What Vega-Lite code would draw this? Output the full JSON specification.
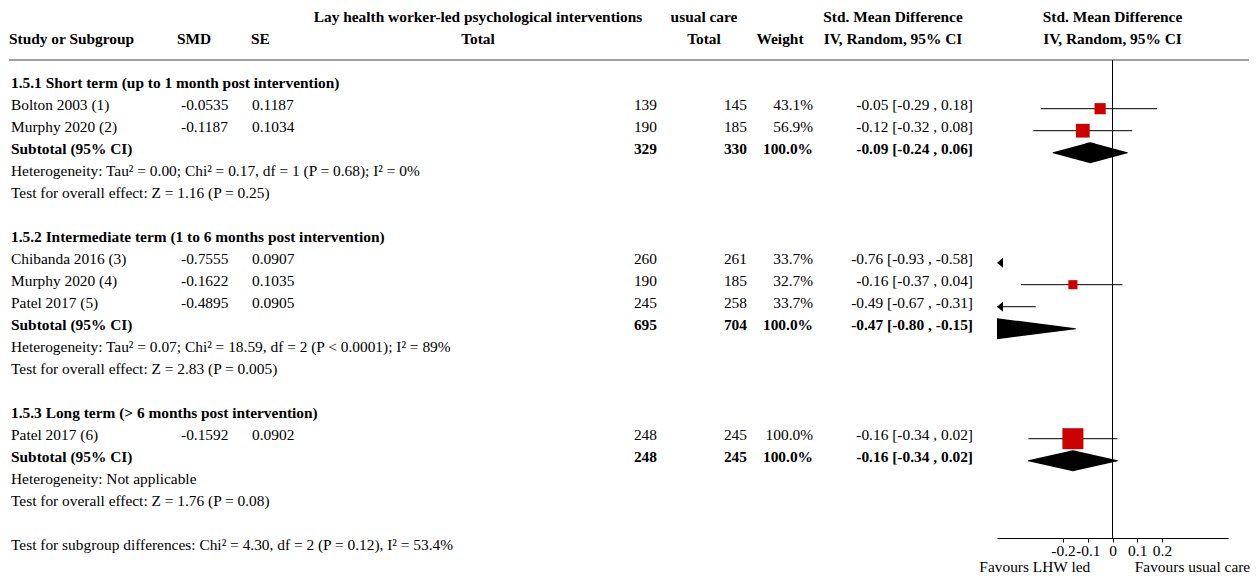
{
  "$schema": "https://vega.github.io/schema/vega-lite/v6.json",
  "padding": {"left": 8, "top": 0, "right": 0, "bottom": 0},
  "background": "white",
  "spacing": 0,
  "bounds": "flush",
  "config": {
    "view": {"stroke": null},
    "text": {"font": "Liberation Serif", "fontSize": 15.4, "baseline": "middle", "dy": -3.5, "color": "#000"}
  },
  "datasets": {
    "header": [
      {"col": "study", "row": -2, "text": "Study or Subgroup"},
      {"col": "smd", "row": -2, "text": "SMD"},
      {"col": "se", "row": -2, "text": "SE"},
      {"col": "t1", "row": -3, "text": "Lay health worker-led psychological interventions"},
      {"col": "t1", "row": -2, "text": "Total"},
      {"col": "t2", "row": -3, "text": "usual care"},
      {"col": "t2", "row": -2, "text": "Total"},
      {"col": "w", "row": -2, "text": "Weight"},
      {"col": "ci", "row": -3, "text": "Std. Mean Difference"},
      {"col": "ci", "row": -2, "text": "IV, Random, 95% CI"},
      {"col": "plot", "row": -3, "text": "Std. Mean Difference"},
      {"col": "plot", "row": -2, "text": "IV, Random, 95% CI"},
      {"col": "fav_l", "row": 22, "text": "Favours LHW led"},
      {"col": "fav_r", "row": 22, "text": "Favours usual care"}
    ],
    "rows": [
      {"row": 0, "type": "heading", "label": "1.5.1 Short term (up to 1 month post intervention)"},
      {"row": 1, "type": "study", "label": "Bolton 2003 (1)", "smd": -0.0535, "se": 0.1187, "n1": 139, "n2": 145, "weight": "43.1%", "wt": 43.1, "ci": "-0.05 [-0.29 , 0.18]", "est": -0.05, "lo": -0.29, "hi": 0.18},
      {"row": 2, "type": "study", "label": "Murphy 2020 (2)", "smd": -0.1187, "se": 0.1034, "n1": 190, "n2": 185, "weight": "56.9%", "wt": 56.9, "ci": "-0.12 [-0.32 , 0.08]", "est": -0.12, "lo": -0.32, "hi": 0.08},
      {"row": 3, "type": "subtotal", "label": "Subtotal (95% CI)", "n1": 329, "n2": 330, "weight": "100.0%", "ci": "-0.09 [-0.24 , 0.06]", "est": -0.09, "lo": -0.24, "hi": 0.06},
      {"row": 4, "type": "note", "label": "Heterogeneity: Tau² = 0.00; Chi² = 0.17, df = 1 (P = 0.68); I² = 0%"},
      {"row": 5, "type": "note", "label": "Test for overall effect: Z = 1.16 (P = 0.25)"},
      {"row": 7, "type": "heading", "label": "1.5.2 Intermediate term (1 to 6 months post intervention)"},
      {"row": 8, "type": "study", "label": "Chibanda 2016 (3)", "smd": -0.7555, "se": 0.0907, "n1": 260, "n2": 261, "weight": "33.7%", "wt": 33.7, "ci": "-0.76 [-0.93 , -0.58]", "est": -0.76, "lo": -0.93, "hi": -0.58},
      {"row": 9, "type": "study", "label": "Murphy 2020 (4)", "smd": -0.1622, "se": 0.1035, "n1": 190, "n2": 185, "weight": "32.7%", "wt": 32.7, "ci": "-0.16 [-0.37 , 0.04]", "est": -0.16, "lo": -0.37, "hi": 0.04},
      {"row": 10, "type": "study", "label": "Patel 2017 (5)", "smd": -0.4895, "se": 0.0905, "n1": 245, "n2": 258, "weight": "33.7%", "wt": 33.7, "ci": "-0.49 [-0.67 , -0.31]", "est": -0.49, "lo": -0.67, "hi": -0.31},
      {"row": 11, "type": "subtotal", "label": "Subtotal (95% CI)", "n1": 695, "n2": 704, "weight": "100.0%", "ci": "-0.47 [-0.80 , -0.15]", "est": -0.47, "lo": -0.80, "hi": -0.15},
      {"row": 12, "type": "note", "label": "Heterogeneity: Tau² = 0.07; Chi² = 18.59, df = 2 (P < 0.0001); I² = 89%"},
      {"row": 13, "type": "note", "label": "Test for overall effect: Z = 2.83 (P = 0.005)"},
      {"row": 15, "type": "heading", "label": "1.5.3 Long term (> 6 months post intervention)"},
      {"row": 16, "type": "study", "label": "Patel 2017 (6)", "smd": -0.1592, "se": 0.0902, "n1": 248, "n2": 245, "weight": "100.0%", "wt": 100, "ci": "-0.16 [-0.34 , 0.02]", "est": -0.16, "lo": -0.34, "hi": 0.02},
      {"row": 17, "type": "subtotal", "label": "Subtotal (95% CI)", "n1": 248, "n2": 245, "weight": "100.0%", "ci": "-0.16 [-0.34 , 0.02]", "est": -0.16, "lo": -0.34, "hi": 0.02},
      {"row": 18, "type": "note", "label": "Heterogeneity: Not applicable"},
      {"row": 19, "type": "note", "label": "Test for overall effect: Z = 1.76 (P = 0.08)"},
      {"row": 21, "type": "note", "label": "Test for subgroup differences: Chi² = 4.30, df = 2 (P = 0.12), I² = 53.4%"}
    ]
  },
  "hconcat": [
    {
      "width": 172, "height": 579,
      "layer": [
        {"data": {"values": [{}]}, "mark": {"type": "rule", "color": "#808080", "strokeWidth": 1.5},
         "encoding": {"y": {"datum": -1.2136, "type": "quantitative", "scale": {"domain": [-3.941, 22.377], "reverse": true, "nice": false, "zero": false}, "axis": null}}},
        {"data": {"name": "header"}, "transform": [{"filter": "datum.col === 'study'"}],
         "mark": {"type": "text", "align": "left", "fontWeight": "bold"},
         "encoding": {"x": {"datum": "c", "type": "nominal", "scale": {"type": "point", "padding": 0, "align": 0}, "axis": null},
                      "y": {"field": "row", "type": "quantitative", "scale": {"domain": [-3.941, 22.377], "reverse": true, "nice": false, "zero": false}, "axis": null},
                      "text": {"field": "text"}}},
        {"data": {"name": "rows"}, "transform": [{"filter": "datum.type === 'study' || datum.type === 'note'"}],
         "mark": {"type": "text", "align": "left", "dx": 2},
         "encoding": {"x": {"datum": "c", "type": "nominal", "scale": {"type": "point", "padding": 0, "align": 0}, "axis": null},
                      "y": {"field": "row", "type": "quantitative", "scale": {"domain": [-3.941, 22.377], "reverse": true, "nice": false, "zero": false}, "axis": null},
                      "text": {"field": "label"}}},
        {"data": {"name": "rows"}, "transform": [{"filter": "datum.type === 'heading' || datum.type === 'subtotal'"}],
         "mark": {"type": "text", "align": "left", "dx": 2, "fontWeight": "bold"},
         "encoding": {"x": {"datum": "c", "type": "nominal", "scale": {"type": "point", "padding": 0, "align": 0}, "axis": null},
                      "y": {"field": "row", "type": "quantitative", "scale": {"domain": [-3.941, 22.377], "reverse": true, "nice": false, "zero": false}, "axis": null},
                      "text": {"field": "label"}}}
      ]
    },
    {
      "width": 71, "height": 579,
      "layer": [
        {"data": {"values": [{}]}, "mark": {"type": "rule", "color": "#808080", "strokeWidth": 1.5},
         "encoding": {"y": {"datum": -1.2136, "type": "quantitative", "scale": {"domain": [-3.941, 22.377], "reverse": true, "nice": false, "zero": false}, "axis": null}}},
        {"data": {"name": "header"}, "transform": [{"filter": "datum.col === 'smd'"}],
         "mark": {"type": "text", "align": "left", "dx": -4, "fontWeight": "bold"},
         "encoding": {"x": {"datum": "c", "type": "nominal", "scale": {"type": "point", "padding": 0, "align": 0}, "axis": null},
                      "y": {"field": "row", "type": "quantitative", "scale": {"domain": [-3.941, 22.377], "reverse": true, "nice": false, "zero": false}, "axis": null},
                      "text": {"field": "text"}}},
        {"data": {"name": "rows"}, "transform": [{"filter": "isValid(datum.smd)"}],
         "mark": {"type": "text", "align": "left"},
         "encoding": {"x": {"datum": "c", "type": "nominal", "scale": {"type": "point", "padding": 0, "align": 0}, "axis": null},
                      "y": {"field": "row", "type": "quantitative", "scale": {"domain": [-3.941, 22.377], "reverse": true, "nice": false, "zero": false}, "axis": null},
                      "text": {"field": "smd", "type": "nominal"}}}
      ]
    },
    {
      "width": 47, "height": 579,
      "layer": [
        {"data": {"values": [{}]}, "mark": {"type": "rule", "color": "#808080", "strokeWidth": 1.5},
         "encoding": {"y": {"datum": -1.2136, "type": "quantitative", "scale": {"domain": [-3.941, 22.377], "reverse": true, "nice": false, "zero": false}, "axis": null}}},
        {"data": {"name": "header"}, "transform": [{"filter": "datum.col === 'se'"}],
         "mark": {"type": "text", "align": "left", "dx": -1, "fontWeight": "bold"},
         "encoding": {"x": {"datum": "c", "type": "nominal", "scale": {"type": "point", "padding": 0, "align": 0}, "axis": null},
                      "y": {"field": "row", "type": "quantitative", "scale": {"domain": [-3.941, 22.377], "reverse": true, "nice": false, "zero": false}, "axis": null},
                      "text": {"field": "text"}}},
        {"data": {"name": "rows"}, "transform": [{"filter": "isValid(datum.se)"}],
         "mark": {"type": "text", "align": "left"},
         "encoding": {"x": {"datum": "c", "type": "nominal", "scale": {"type": "point", "padding": 0, "align": 0}, "axis": null},
                      "y": {"field": "row", "type": "quantitative", "scale": {"domain": [-3.941, 22.377], "reverse": true, "nice": false, "zero": false}, "axis": null},
                      "text": {"field": "se", "type": "nominal"}}}
      ]
    },
    {
      "width": 358, "height": 579,
      "layer": [
        {"data": {"values": [{}]}, "mark": {"type": "rule", "color": "#808080", "strokeWidth": 1.5},
         "encoding": {"y": {"datum": -1.2136, "type": "quantitative", "scale": {"domain": [-3.941, 22.377], "reverse": true, "nice": false, "zero": false}, "axis": null}}},
        {"data": {"name": "header"}, "transform": [{"filter": "datum.col === 't1'"}],
         "mark": {"type": "text", "align": "center", "fontWeight": "bold"},
         "encoding": {"y": {"field": "row", "type": "quantitative", "scale": {"domain": [-3.941, 22.377], "reverse": true, "nice": false, "zero": false}, "axis": null},
                      "text": {"field": "text"}}},
        {"data": {"name": "rows"}, "transform": [{"filter": "datum.type === 'study'"}],
         "mark": {"type": "text", "align": "right"},
         "encoding": {"x": {"datum": "c", "type": "nominal", "scale": {"type": "point", "padding": 0, "align": 1}, "axis": null},
                      "y": {"field": "row", "type": "quantitative", "scale": {"domain": [-3.941, 22.377], "reverse": true, "nice": false, "zero": false}, "axis": null},
                      "text": {"field": "n1", "type": "nominal"}}},
        {"data": {"name": "rows"}, "transform": [{"filter": "datum.type === 'subtotal'"}],
         "mark": {"type": "text", "align": "right", "fontWeight": "bold"},
         "encoding": {"x": {"datum": "c", "type": "nominal", "scale": {"type": "point", "padding": 0, "align": 1}, "axis": null},
                      "y": {"field": "row", "type": "quantitative", "scale": {"domain": [-3.941, 22.377], "reverse": true, "nice": false, "zero": false}, "axis": null},
                      "text": {"field": "n1", "type": "nominal"}}}
      ]
    },
    {
      "width": 90, "height": 579,
      "layer": [
        {"data": {"values": [{}]}, "mark": {"type": "rule", "color": "#808080", "strokeWidth": 1.5},
         "encoding": {"y": {"datum": -1.2136, "type": "quantitative", "scale": {"domain": [-3.941, 22.377], "reverse": true, "nice": false, "zero": false}, "axis": null}}},
        {"data": {"name": "header"}, "transform": [{"filter": "datum.col === 't2'"}],
         "mark": {"type": "text", "align": "center", "dx": 2, "fontWeight": "bold"},
         "encoding": {"y": {"field": "row", "type": "quantitative", "scale": {"domain": [-3.941, 22.377], "reverse": true, "nice": false, "zero": false}, "axis": null},
                      "text": {"field": "text"}}},
        {"data": {"name": "rows"}, "transform": [{"filter": "datum.type === 'study'"}],
         "mark": {"type": "text", "align": "right"},
         "encoding": {"x": {"datum": "c", "type": "nominal", "scale": {"type": "point", "padding": 0, "align": 1}, "axis": null},
                      "y": {"field": "row", "type": "quantitative", "scale": {"domain": [-3.941, 22.377], "reverse": true, "nice": false, "zero": false}, "axis": null},
                      "text": {"field": "n2", "type": "nominal"}}},
        {"data": {"name": "rows"}, "transform": [{"filter": "datum.type === 'subtotal'"}],
         "mark": {"type": "text", "align": "right", "fontWeight": "bold"},
         "encoding": {"x": {"datum": "c", "type": "nominal", "scale": {"type": "point", "padding": 0, "align": 1}, "axis": null},
                      "y": {"field": "row", "type": "quantitative", "scale": {"domain": [-3.941, 22.377], "reverse": true, "nice": false, "zero": false}, "axis": null},
                      "text": {"field": "n2", "type": "nominal"}}}
      ]
    },
    {
      "width": 66, "height": 579,
      "layer": [
        {"data": {"values": [{}]}, "mark": {"type": "rule", "color": "#808080", "strokeWidth": 1.5},
         "encoding": {"y": {"datum": -1.2136, "type": "quantitative", "scale": {"domain": [-3.941, 22.377], "reverse": true, "nice": false, "zero": false}, "axis": null}}},
        {"data": {"name": "header"}, "transform": [{"filter": "datum.col === 'w'"}],
         "mark": {"type": "text", "align": "center", "fontWeight": "bold"},
         "encoding": {"y": {"field": "row", "type": "quantitative", "scale": {"domain": [-3.941, 22.377], "reverse": true, "nice": false, "zero": false}, "axis": null},
                      "text": {"field": "text"}}},
        {"data": {"name": "rows"}, "transform": [{"filter": "datum.type === 'study'"}],
         "mark": {"type": "text", "align": "right"},
         "encoding": {"x": {"datum": "c", "type": "nominal", "scale": {"type": "point", "padding": 0, "align": 1}, "axis": null},
                      "y": {"field": "row", "type": "quantitative", "scale": {"domain": [-3.941, 22.377], "reverse": true, "nice": false, "zero": false}, "axis": null},
                      "text": {"field": "weight", "type": "nominal"}}},
        {"data": {"name": "rows"}, "transform": [{"filter": "datum.type === 'subtotal'"}],
         "mark": {"type": "text", "align": "right", "fontWeight": "bold"},
         "encoding": {"x": {"datum": "c", "type": "nominal", "scale": {"type": "point", "padding": 0, "align": 1}, "axis": null},
                      "y": {"field": "row", "type": "quantitative", "scale": {"domain": [-3.941, 22.377], "reverse": true, "nice": false, "zero": false}, "axis": null},
                      "text": {"field": "weight", "type": "nominal"}}}
      ]
    },
    {
      "width": 160, "height": 579,
      "layer": [
        {"data": {"values": [{}]}, "mark": {"type": "rule", "color": "#808080", "strokeWidth": 1.5},
         "encoding": {"y": {"datum": -1.2136, "type": "quantitative", "scale": {"domain": [-3.941, 22.377], "reverse": true, "nice": false, "zero": false}, "axis": null}}},
        {"data": {"name": "header"}, "transform": [{"filter": "datum.col === 'ci'"}],
         "mark": {"type": "text", "align": "center", "fontWeight": "bold"},
         "encoding": {"y": {"field": "row", "type": "quantitative", "scale": {"domain": [-3.941, 22.377], "reverse": true, "nice": false, "zero": false}, "axis": null},
                      "text": {"field": "text"}}},
        {"data": {"name": "rows"}, "transform": [{"filter": "datum.type === 'study'"}],
         "mark": {"type": "text", "align": "right"},
         "encoding": {"x": {"datum": "c", "type": "nominal", "scale": {"type": "point", "padding": 0, "align": 1}, "axis": null},
                      "y": {"field": "row", "type": "quantitative", "scale": {"domain": [-3.941, 22.377], "reverse": true, "nice": false, "zero": false}, "axis": null},
                      "text": {"field": "ci", "type": "nominal"}}},
        {"data": {"name": "rows"}, "transform": [{"filter": "datum.type === 'subtotal'"}],
         "mark": {"type": "text", "align": "right", "fontWeight": "bold"},
         "encoding": {"x": {"datum": "c", "type": "nominal", "scale": {"type": "point", "padding": 0, "align": 1}, "axis": null},
                      "y": {"field": "row", "type": "quantitative", "scale": {"domain": [-3.941, 22.377], "reverse": true, "nice": false, "zero": false}, "axis": null},
                      "text": {"field": "ci", "type": "nominal"}}}
      ]
    },
    {
      "width": 24, "height": 579,
      "layer": [
        {"data": {"values": [{}]}, "mark": {"type": "rule", "color": "#808080", "strokeWidth": 1.5},
         "encoding": {"y": {"datum": -1.2136, "type": "quantitative", "scale": {"domain": [-3.941, 22.377], "reverse": true, "nice": false, "zero": false}, "axis": null}}}
      ]
    },
    {
      "width": 231, "height": 538,
      "layer": [
        {"data": {"name": "rows"}, "transform": [{"filter": "datum.type === 'study'"}],
         "mark": {"type": "rule", "color": "#000", "strokeWidth": 1},
         "encoding": {"x": {"field": "lo", "type": "quantitative", "scale": {"domain": [-0.4667, 0.4667], "clamp": true, "nice": false, "zero": false},
                            "axis": {"values": [-0.2, -0.1, 0, 0.1, 0.2], "labelExpr": "'' + datum.value", "title": null, "grid": false, "domainColor": "#000", "tickColor": "#000", "tickSize": 4, "labelPadding": 1, "labelFont": "Liberation Serif", "labelFontSize": 15.4, "labelColor": "#000", "labelOverlap": false, "labelFlush": false, "domainWidth": 1, "tickWidth": 1}},
                      "x2": {"field": "hi"},
                      "y": {"field": "row", "type": "quantitative", "scale": {"domain": [-3.941, 20.514], "reverse": true, "nice": false, "zero": false}, "axis": null}}},
        {"data": {"values": [{}]}, "mark": {"type": "rule", "color": "#808080", "strokeWidth": 1.5},
         "encoding": {"y": {"datum": -1.2136, "type": "quantitative", "scale": {"domain": [-3.941, 20.514], "reverse": true, "nice": false, "zero": false}, "axis": null}}},
        {"data": {"values": [{}]}, "mark": {"type": "rule", "color": "#000", "strokeWidth": 1},
         "encoding": {"x": {"datum": 0, "type": "quantitative", "scale": {"domain": [-0.4667, 0.4667], "clamp": true, "nice": false, "zero": false},
                            "axis": {"values": [-0.2, -0.1, 0, 0.1, 0.2], "labelExpr": "'' + datum.value", "title": null, "grid": false, "domainColor": "#000", "tickColor": "#000", "tickSize": 4, "labelPadding": 1, "labelFont": "Liberation Serif", "labelFontSize": 15.4, "labelColor": "#000", "labelOverlap": false, "labelFlush": false, "domainWidth": 1, "tickWidth": 1}},
                      "y": {"datum": -1.2136, "type": "quantitative", "scale": {"domain": [-3.941, 20.514], "reverse": true, "nice": false, "zero": false}, "axis": null},
                      "y2": {"datum": 20.514}}},
        {"data": {"name": "rows"}, "transform": [{"filter": "datum.type === 'study' && datum.lo < -0.4667"}],
         "mark": {"type": "point", "shape": "M0,0L1.2,-1L1.2,1Z", "filled": true, "color": "#000", "opacity": 1, "size": 100},
         "encoding": {"x": {"field": "lo", "type": "quantitative", "scale": {"domain": [-0.4667, 0.4667], "clamp": true, "nice": false, "zero": false},
                            "axis": {"values": [-0.2, -0.1, 0, 0.1, 0.2], "labelExpr": "'' + datum.value", "title": null, "grid": false, "domainColor": "#000", "tickColor": "#000", "tickSize": 4, "labelPadding": 1, "labelFont": "Liberation Serif", "labelFontSize": 15.4, "labelColor": "#000", "labelOverlap": false, "labelFlush": false, "domainWidth": 1, "tickWidth": 1}},
                      "y": {"field": "row", "type": "quantitative", "scale": {"domain": [-3.941, 20.514], "reverse": true, "nice": false, "zero": false}, "axis": null}}},
        {"data": {"name": "rows"}, "transform": [{"filter": "datum.type === 'study' && datum.est >= -0.4667"}],
         "mark": {"type": "point", "shape": "square", "filled": true, "color": "#cc0000", "opacity": 1},
         "encoding": {"x": {"field": "est", "type": "quantitative", "scale": {"domain": [-0.4667, 0.4667], "clamp": true, "nice": false, "zero": false},
                            "axis": {"values": [-0.2, -0.1, 0, 0.1, 0.2], "labelExpr": "'' + datum.value", "title": null, "grid": false, "domainColor": "#000", "tickColor": "#000", "tickSize": 4, "labelPadding": 1, "labelFont": "Liberation Serif", "labelFontSize": 15.4, "labelColor": "#000", "labelOverlap": false, "labelFlush": false, "domainWidth": 1, "tickWidth": 1}},
                      "y": {"field": "row", "type": "quantitative", "scale": {"domain": [-3.941, 20.514], "reverse": true, "nice": false, "zero": false}, "axis": null},
                      "size": {"field": "wt", "type": "quantitative", "scale": {"type": "pow", "exponent": 1.5, "domain": [0, 100], "range": [0, 441]}, "legend": null}}},
        {"data": {"name": "rows"}, "transform": [{"filter": "datum.type === 'subtotal'"}, {"fold": ["lo", "est", "hi"]}],
         "mark": {"type": "trail", "color": "#000", "clip": true},
         "encoding": {"x": {"field": "value", "type": "quantitative", "scale": {"domain": [-0.4667, 0.4667], "clamp": true, "nice": false, "zero": false},
                            "axis": {"values": [-0.2, -0.1, 0, 0.1, 0.2], "labelExpr": "'' + datum.value", "title": null, "grid": false, "domainColor": "#000", "tickColor": "#000", "tickSize": 4, "labelPadding": 1, "labelFont": "Liberation Serif", "labelFontSize": 15.4, "labelColor": "#000", "labelOverlap": false, "labelFlush": false, "domainWidth": 1, "tickWidth": 1}},
                      "y": {"field": "row", "type": "quantitative", "scale": {"domain": [-3.941, 20.514], "reverse": true, "nice": false, "zero": false}, "axis": null},
                      "detail": {"field": "row", "type": "nominal"},
                      "order": {"field": "value", "type": "quantitative"},
                      "size": {"condition": {"test": "datum.key === 'est'", "value": 21}, "value": 0}}},
        {"data": {"name": "header"}, "transform": [{"filter": "datum.col === 'plot'"}],
         "mark": {"type": "text", "align": "center", "fontWeight": "bold"},
         "encoding": {"y": {"field": "row", "type": "quantitative", "scale": {"domain": [-3.941, 20.514], "reverse": true, "nice": false, "zero": false}, "axis": null},
                      "text": {"field": "text"}}},
        {"data": {"name": "header"}, "transform": [{"filter": "datum.col === 'fav_l'"}],
         "mark": {"type": "text", "align": "right"},
         "encoding": {"x": {"datum": -0.09, "type": "quantitative", "scale": {"domain": [-0.4667, 0.4667], "clamp": true, "nice": false, "zero": false},
                            "axis": {"values": [-0.2, -0.1, 0, 0.1, 0.2], "labelExpr": "'' + datum.value", "title": null, "grid": false, "domainColor": "#000", "tickColor": "#000", "tickSize": 4, "labelPadding": 1, "labelFont": "Liberation Serif", "labelFontSize": 15.4, "labelColor": "#000", "labelOverlap": false, "labelFlush": false, "domainWidth": 1, "tickWidth": 1}},
                      "y": {"field": "row", "type": "quantitative", "scale": {"domain": [-3.941, 20.514], "reverse": true, "nice": false, "zero": false}, "axis": null},
                      "text": {"field": "text"}}},
        {"data": {"name": "header"}, "transform": [{"filter": "datum.col === 'fav_r'"}],
         "mark": {"type": "text", "align": "left"},
         "encoding": {"x": {"datum": 0.09, "type": "quantitative", "scale": {"domain": [-0.4667, 0.4667], "clamp": true, "nice": false, "zero": false},
                            "axis": {"values": [-0.2, -0.1, 0, 0.1, 0.2], "labelExpr": "'' + datum.value", "title": null, "grid": false, "domainColor": "#000", "tickColor": "#000", "tickSize": 4, "labelPadding": 1, "labelFont": "Liberation Serif", "labelFontSize": 15.4, "labelColor": "#000", "labelOverlap": false, "labelFlush": false, "domainWidth": 1, "tickWidth": 1}},
                      "y": {"field": "row", "type": "quantitative", "scale": {"domain": [-3.941, 20.514], "reverse": true, "nice": false, "zero": false}, "axis": null},
                      "text": {"field": "text"}}}
      ]
    },
    {
      "width": 21, "height": 579,
      "layer": [
        {"data": {"values": [{}]}, "mark": {"type": "rule", "color": "#808080", "strokeWidth": 1.5},
         "encoding": {"y": {"datum": -1.2136, "type": "quantitative", "scale": {"domain": [-3.941, 22.377], "reverse": true, "nice": false, "zero": false}, "axis": null}}}
      ]
    }
  ]
}
